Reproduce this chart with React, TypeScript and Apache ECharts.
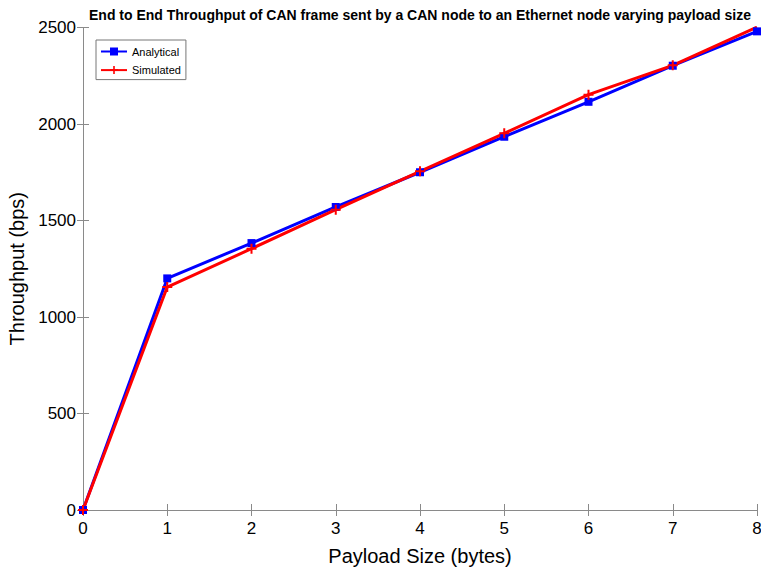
import React, { useEffect, useRef } from "react";
import * as echarts from "echarts";

const payloadSizes = [0, 1, 2, 3, 4, 5, 6, 7, 8];
const analytical = [0, 1200, 1383, 1570, 1750, 1934, 2115, 2302, 2480];
const simulated = [0, 1155, 1354, 1556, 1755, 1952, 2152, 2304, 2502];
const titleText =
  "End to End Throughput of CAN frame sent by a CAN node to an Ethernet node varying payload size";

const AX = "#8a8a8a";
const FONT = "'Liberation Sans', Arial, sans-serif";
const PLUS = "path://M4,0H6V4H10V6H6V10H4V6H0V4H4Z";

export default function App() {
  const ref = useRef<HTMLDivElement>(null);
  useEffect(() => {
    if (!ref.current) return;
    const chart = echarts.init(ref.current, undefined, { renderer: "svg" });
    const axisBase = {
      type: "value" as const,
      axisLine: { show: true, lineStyle: { color: AX, width: 1 } },
      axisTick: { show: true, inside: true, length: 6, lineStyle: { color: AX } },
      splitLine: { show: false },
    };
    chart.setOption({
      animation: false,
      backgroundColor: "#ffffff",
      title: {
        text: titleText,
        left: 84,
        top: 3,
        textStyle: { fontFamily: FONT, fontSize: 14, fontWeight: "bold", color: "#000" },
      },
      legend: {
        orient: "vertical",
        left: 96,
        top: 40,
        padding: [6, 5, 4, 4],
        borderColor: "#777",
        borderWidth: 1,
        backgroundColor: "#fff",
        itemWidth: 26,
        itemHeight: 10,
        itemGap: 7.6,
        textStyle: { fontFamily: FONT, fontSize: 11, color: "#000" },
        data: ["Analytical", "Simulated"],
      },
      grid: {
        left: 83,
        right: 4,
        top: 27.5,
        bottom: 63,
        show: false,
        containLabel: false,
        outerBoundsMode: "none",
      },
      xAxis: [
        {
          ...axisBase,
          min: 0,
          max: 8,
          interval: 1,
          position: "bottom",
          axisLabel: { fontFamily: FONT, fontSize: 17, color: "#000", margin: 10 },
          name: "Payload Size (bytes)",
          nameLocation: "middle",
          nameGap: 36,
          nameTextStyle: { fontFamily: FONT, fontSize: 20, color: "#000" },
        },
        {
          ...axisBase,
          min: 0,
          max: 8,
          interval: 1,
          position: "top",
          axisLabel: { show: false },
        },
      ],
      yAxis: [
        {
          ...axisBase,
          min: 0,
          max: 2500,
          interval: 500,
          position: "left",
          axisLabel: {
            fontFamily: FONT,
            fontSize: 17,
            color: "#000",
            margin: 7,
            formatter: (v: number) => String(v),
          },
          name: "Throughput (bps)",
          nameLocation: "middle",
          nameGap: 56,
          nameTextStyle: { fontFamily: FONT, fontSize: 20, color: "#000" },
        },
        {
          ...axisBase,
          min: 0,
          max: 2500,
          interval: 500,
          position: "right",
          axisLabel: { show: false },
        },
      ],
      series: [
        {
          name: "Analytical",
          type: "line",
          xAxisIndex: 0,
          yAxisIndex: 0,
          data: payloadSizes.map((x, i) => [x, analytical[i]]),
          lineStyle: { color: "#0000ff", width: 3 },
          itemStyle: { color: "#0000ff" },
          symbol: "rect",
          symbolSize: 8,
          showAllSymbol: true,
        },
        {
          name: "Simulated",
          type: "line",
          xAxisIndex: 0,
          yAxisIndex: 0,
          data: payloadSizes.map((x, i) => [x, simulated[i]]),
          lineStyle: { color: "#ff0000", width: 3 },
          itemStyle: { color: "#ff0000" },
          symbol: PLUS,
          symbolSize: 10,
          showAllSymbol: true,
        },
      ],
    });
    return () => chart.dispose();
  }, []);
  return (
    <div
      ref={ref}
      style={{ position: "fixed", left: 0, top: 0, width: 761, height: 573, background: "#fff" }}
    />
  );
}
